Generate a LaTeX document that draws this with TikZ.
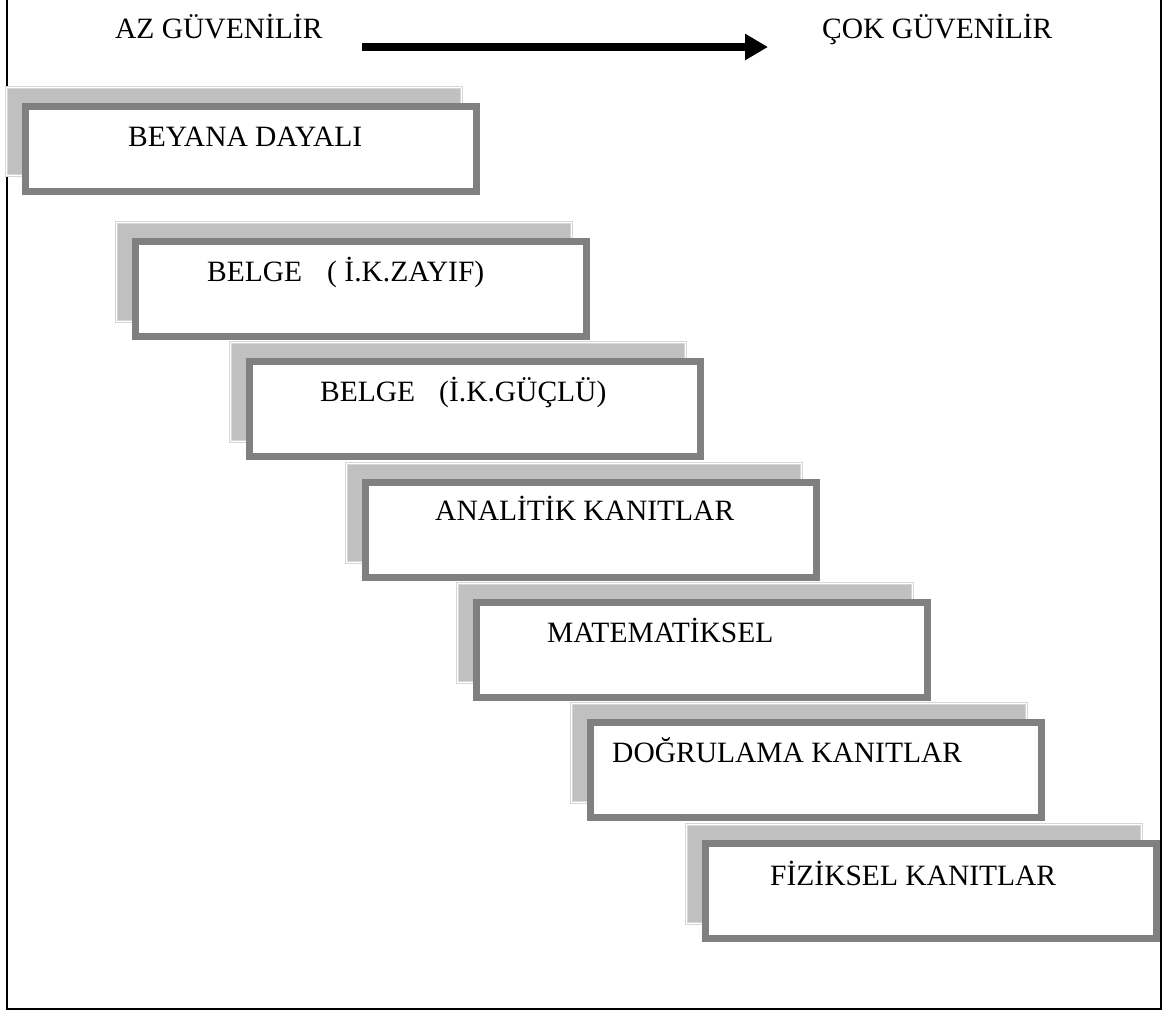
\documentclass[tikz,border=0pt]{standalone}
\usepackage{fontspec}
\setmainfont{Liberation Serif}
\usetikzlibrary{arrows.meta}
\definecolor{shadowgray}{HTML}{C0C0C0}
\definecolor{shadowedge}{HTML}{D6D6D6}
\definecolor{boxgray}{HTML}{808080}
\tikzset{
  shadowbox/.style={anchor=north west, fill=shadowgray, draw=shadowedge,
    line width=1pt, double=white, double distance=1pt,
    minimum width=455pt, minimum height=99pt, inner sep=0pt},
  mainbox/.style={anchor=north west, fill=white, draw=boxgray, line width=7pt,
    minimum width=451pt, minimum height=95pt, inner sep=0pt},
  boxtext/.style={anchor=base west, inner sep=0pt,
    font=\fontsize{29.5}{35}\selectfont},
}
\begin{document}
\begin{tikzpicture}[x=1pt, y=-1pt]
      \useasboundingbox (0, 0) rectangle (1168, 1016);
      \draw [line width=2pt] (7, -2) -- (7, 1009) -- (1161, 1009) -- (1161, -2);
      % header
      \node [boxtext] (az) at (115, 39) {AZ GÜVENİLİR};
      \node [boxtext] (cok) at (822, 39) {ÇOK GÜVENİLİR};
      \coordinate (arrfrom) at (362, 47);
      \coordinate (arrto) at (768, 47);
      \draw [line width=8pt, -{Triangle[length=23pt, width=25pt]}] (arrfrom) -- (arrto);
      % steps
      \node [shadowbox, minimum height=88pt] (s1) at (6, 87) {};
      \node [mainbox, minimum height=85pt] (b1) at (22, 103) {};
      \node [boxtext] (t1) at ([shift={(106, 44)}]b1.north west) {BEYANA DAYALI};
      \node [shadowbox] (s2) at (116, 222) {};
      \node [mainbox] (b2) at (132, 238) {};
      \node [boxtext] (t2) at ([shift={(75, 44)}]b2.north west) {BELGE\hspace{25pt}( İ.K.ZAYIF)};
      \node [shadowbox] (s3) at (230, 342) {};
      \node [mainbox] (b3) at (246, 358) {};
      \node [boxtext] (t3) at ([shift={(74, 44)}]b3.north west) {BELGE\hspace{24pt}(İ.K.GÜÇLÜ)};
      \node [shadowbox] (s4) at (346, 463) {};
      \node [mainbox] (b4) at (362, 479) {};
      \node [boxtext] (t4) at ([shift={(73, 41)}]b4.north west) {ANALİTİK KANITLAR};
      \node [shadowbox] (s5) at (457, 583) {};
      \node [mainbox] (b5) at (473, 599) {};
      \node [boxtext] (t5) at ([shift={(74, 43)}]b5.north west) {MATEMATİKSEL};
      \node [shadowbox] (s6) at (571, 703) {};
      \node [mainbox] (b6) at (587, 719) {};
      \node [boxtext] (t6) at ([shift={(25, 43)}]b6.north west) {DOĞRULAMA KANITLAR};
      \node [shadowbox] (s7) at (686, 824) {};
      \node [mainbox] (b7) at (702, 840) {};
      \node [boxtext] (t7) at ([shift={(68, 45)}]b7.north west) {FİZİKSEL KANITLAR};
    \end{tikzpicture}
\end{document}
